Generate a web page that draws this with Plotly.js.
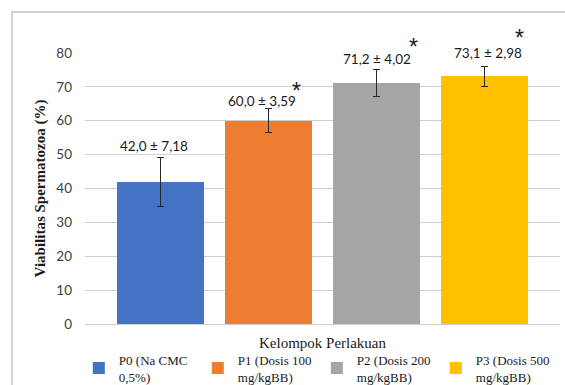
<!DOCTYPE html>
<html>
<head>
<meta charset="utf-8">
<script src="https://cdn.plot.ly/plotly-3.0.1.min.js"></script>
<style>
  html, body { margin: 0; padding: 0; background: #fff; }
  #chart { width: 565px; height: 385px; }
</style>
</head>
<body>
<div id="chart"></div>
<script>
// Sperm viability per treatment group (mean ± SD, %)
const groups = ["P0", "P1", "P2", "P3"];
const groupNames = [
  "P0 (Na CMC<br>0,5%)",
  "P1 (Dosis 100<br>mg/kgBB)",
  "P2 (Dosis 200<br>mg/kgBB)",
  "P3 (Dosis 500<br>mg/kgBB)"
];
const viability = [42.0, 60.0, 71.2, 73.1];
const viabilitySD = [7.18, 3.59, 4.02, 2.98];
const significant = [false, true, true, true];
const yTicks = [0, 10, 20, 30, 40, 50, 60, 70, 80];

const colors = ["#4472C4", "#ED7D31", "#A5A5A5", "#FFC000"];

const SERIF = "Liberation Serif";
const SANS = "Lato";

// label placement tweaks (px), relative to the top of each error bar
const labelShiftX = [-6, -7, 0, 3];
const labelShiftY = [11, 8, 10, 13];
const starShiftX = [0, 28, 37, 35];
const starShiftY = [0, 18, 22, 28];

const fmt = (v, d) => v.toFixed(d).replace(".", ",");

const traces = groups.map((g, i) => ({
  type: "bar",
  name: groupNames[i],
  x: [g],
  y: [viability[i]],
  marker: { color: colors[i], line: { width: 0 } },
  error_y: {
    type: "data",
    array: [viabilitySD[i]],
    visible: true,
    color: "#262626",
    thickness: 1,
    width: 3.5
  },
  hoverinfo: "skip"
}));

const annotations = [];
groups.forEach((g, i) => {
  const top = viability[i] + viabilitySD[i];
  annotations.push({
    x: g, y: top, xref: "x", yref: "y",
    text: fmt(viability[i], 1) + " ± " + fmt(viabilitySD[i], 2),
    showarrow: false, xanchor: "center", yanchor: "middle",
    xshift: labelShiftX[i], yshift: labelShiftY[i],
    font: { family: SANS, size: 13.5, color: "#1a1a1a" }
  });
  if (significant[i]) {
    annotations.push({
      x: g, y: top, xref: "x", yref: "y",
      text: "*",
      showarrow: false, xanchor: "center", yanchor: "middle",
      xshift: starShiftX[i], yshift: starShiftY[i],
      font: { family: "Liberation Sans", size: 23, color: "#1a1a1a" }
    });
  }
});

const layout = {
  width: 565,
  height: 385,
  margin: { l: 85, r: 5, t: 53, b: 61, autoexpand: false },
  paper_bgcolor: "#ffffff",
  plot_bgcolor: "#ffffff",
  barmode: "stack",
  bargap: 0.2,
  showlegend: true,
  legend: {
    orientation: "h",
    x: -0.013, xanchor: "left",
    y: -0.163, yanchor: "middle",
    entrywidth: 74,
    entrywidthmode: "pixels",
    font: { family: SERIF, size: 13, color: "#1a1a1a" },
    bgcolor: "rgba(0,0,0,0)",
    traceorder: "normal",
    itemclick: false
  },
  xaxis: {
    type: "category",
    categoryorder: "array",
    categoryarray: groups,
    range: [-0.699, 3.699],
    showticklabels: false,
    ticks: "",
    showgrid: false,
    showline: false,
    zeroline: false,
    automargin: false,
    fixedrange: true,
    title: {
      text: "Kelompok Perlakuan",
      standoff: 13,
      font: { family: SERIF, size: 15, color: "#1a1a1a" }
    }
  },
  yaxis: {
    range: [0, 80],
    tickvals: yTicks,
    ticktext: yTicks.map(String),
    ticks: "",
    ticklabelstandoff: 12,
    showgrid: true,
    gridcolor: "#cfcfcf",
    gridwidth: 1,
    zeroline: true,
    zerolinecolor: "#cfcfcf",
    zerolinewidth: 1,
    showline: false,
    automargin: false,
    fixedrange: true,
    tickfont: { family: SANS, size: 13.5, color: "#404040" },
    title: {
      text: "<b>Viabilitas Spermatozoa (%)</b>",
      standoff: 7,
      font: { family: SERIF, size: 15, color: "#1a1a1a" }
    }
  },
  annotations: annotations,
  shapes: [{
    // chart-area frame
    type: "rect", xref: "paper", yref: "paper",
    x0: -0.1537, x1: 1.05, y0: -0.3, y1: 1.1513,
    line: { color: "#a6a6a6", width: 1 },
    fillcolor: "rgba(0,0,0,0)",
    layer: "below"
  }]
};

Plotly.newPlot("chart", traces, layout, { displayModeBar: false, staticPlot: true });
</script>
</body>
</html>
